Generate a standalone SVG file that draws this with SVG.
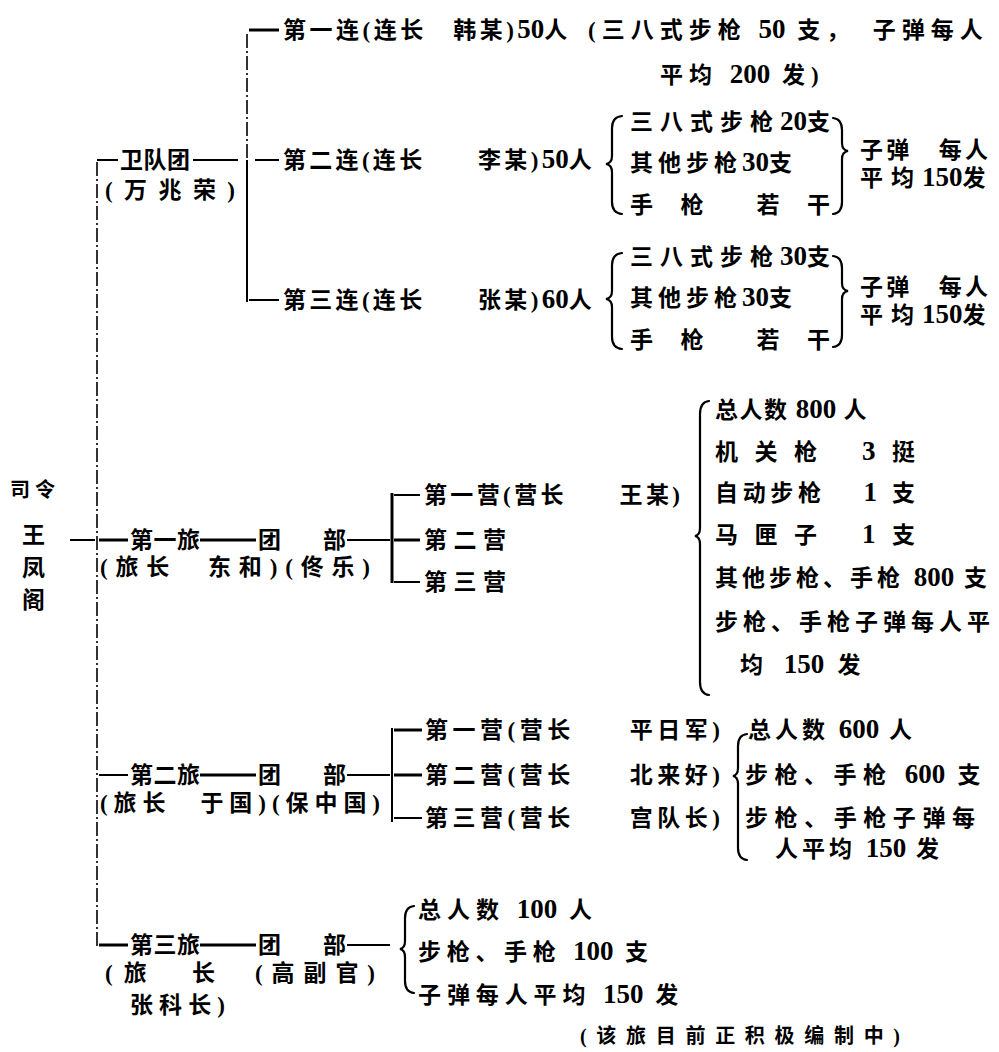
<svg xmlns="http://www.w3.org/2000/svg" width="999" height="1052" viewBox="0 0 999 1052">
<style>
.t{font-family:"Liberation Serif","Noto Sans CJK SC",serif;font-size:23px;font-weight:bold;fill:#000}
.s{font-size:20px}
.d{font-size:27px;letter-spacing:0}
.ln{stroke:#000;stroke-width:2;fill:none}
.bk{stroke:#000;stroke-width:3;fill:none}
.dl{stroke:#000;stroke-width:1.6;fill:none;stroke-dasharray:14 3 2 3}
.br{stroke:#000;stroke-width:2.2;fill:none;stroke-linecap:round}
</style>
<rect width="999" height="1052" fill="#fff"/>
<g id="connectors">
  <line class="ln" x1="70" y1="540" x2="95" y2="540"/>
  <line class="dl" x1="97" y1="162" x2="97" y2="946"/>
  <line class="ln" x1="97" y1="160" x2="118" y2="160"/>
  <line class="bk" x1="99" y1="540" x2="128" y2="540"/>
  <line class="ln" x1="99" y1="775" x2="128" y2="775"/>
  <line class="bk" x1="99" y1="945" x2="128" y2="945"/>
  <line class="ln" x1="193" y1="160" x2="238" y2="160"/>
  <line class="dl" x1="247" y1="34" x2="247" y2="160"/>
  <line class="ln" x1="247" y1="160" x2="247" y2="302"/>
  <line class="bk" x1="249" y1="30" x2="279" y2="30"/>
  <line class="ln" x1="255" y1="160" x2="279" y2="160"/>
  <line class="ln" x1="249" y1="300" x2="279" y2="300"/>
  <line class="bk" x1="200" y1="540" x2="256" y2="540"/>
  <line class="ln" x1="347" y1="540" x2="390" y2="540"/>
  <line class="bk" x1="392" y1="493" x2="392" y2="583"/>
  <line class="ln" x1="394" y1="495" x2="420" y2="495"/>
  <line class="bk" x1="394" y1="540" x2="420" y2="540"/>
  <line class="ln" x1="394" y1="582" x2="420" y2="582"/>
  <line class="bk" x1="200" y1="775" x2="256" y2="775"/>
  <line class="ln" x1="347" y1="775" x2="390" y2="775"/>
  <line class="ln" x1="392" y1="728" x2="392" y2="822"/>
  <line class="bk" x1="394" y1="730" x2="422" y2="730"/>
  <line class="bk" x1="394" y1="775" x2="422" y2="775"/>
  <line class="ln" x1="394" y1="818" x2="422" y2="818"/>
  <line class="bk" x1="200" y1="945" x2="256" y2="945"/>
  <line class="ln" x1="347" y1="945" x2="390" y2="945"/>
  <path class="br" d="M622 116 Q612 117 612 128 L612 156 Q612 163 606 164 Q612 165 612 172 L612 202 Q612 213 622 214"/>
  <path class="br" d="M833 118 Q842 119 842 130 L842 143 Q842 150 848 151 Q842 152 842 159 L842 202 Q842 213 833 214"/>
  <path class="br" d="M622 253 Q612 254 612 265 L612 291 Q612 298 606 299 Q612 300 612 307 L612 337 Q612 348 622 349"/>
  <path class="br" d="M833 256 Q842 257 842 268 L842 283 Q842 290 848 291 Q842 292 842 299 L842 335 Q842 346 833 347"/>
  <path class="br" d="M709 401 Q700 402 700 414 L700 528 Q700 535 695 536 Q700 537 700 544 L700 682 Q700 694 709 695"/>
  <path class="br" d="M747 734 Q738 735 738 746 L738 768 Q738 775 733 776 Q738 777 738 784 L738 848 Q738 859 747 860"/>
  <path class="br" d="M414 906 Q405 907 405 918 L405 941 Q405 948 400 949 Q405 950 405 957 L405 981 Q405 992 414 993"/>
</g>
<g id="commander">
  <text class="t s" x="10" y="497" textLength="45">司令</text>
  <text class="t" x="22" y="543">王</text>
  <text class="t" x="22" y="576">凤</text>
  <text class="t" x="22" y="608">阁</text>
</g>
<g id="guard-regiment">
  <text class="t" x="120" y="168" textLength="70">卫队团</text>
  <text class="t" x="105" y="198" textLength="130">(万兆荣)</text>
</g>
<g id="company-1">
  <text class="t" x="283" y="38" letter-spacing="3.5" xml:space="preserve">第一连(连长　韩某)<tspan class="d">50</tspan>人</text>
  <text class="t" x="588" y="38" letter-spacing="6" xml:space="preserve">(三八式步枪 <tspan class="d">50</tspan> 支，　子弹每人</text>
  <text class="t" x="660" y="83" letter-spacing="6" xml:space="preserve">平均 <tspan class="d">200</tspan> 发)</text>
</g>
<g id="company-2">
  <text class="t" x="283" y="168" letter-spacing="3.3" xml:space="preserve">第二连(连长　　李某)<tspan class="d">50</tspan>人</text>
  <text class="t" x="630" y="130" letter-spacing="7">三八式步枪<tspan class="d">20</tspan>支</text>
  <text class="t" x="630" y="171" letter-spacing="5">其他步枪<tspan class="d">30</tspan>支</text>
  <text class="t" x="630" y="213" textLength="200" xml:space="preserve">手　枪　　若　干</text>
  <text class="t" x="860" y="158" textLength="128" xml:space="preserve">子弹　每人</text>
  <text class="t" x="860" y="186" letter-spacing="8">平均<tspan class="d" letter-spacing="1">150</tspan>发</text>
</g>
<g id="company-3">
  <text class="t" x="283" y="308" letter-spacing="3.3" xml:space="preserve">第三连(连长　　张某)<tspan class="d">60</tspan>人</text>
  <text class="t" x="630" y="265" letter-spacing="7">三八式步枪<tspan class="d">30</tspan>支</text>
  <text class="t" x="630" y="306" letter-spacing="5">其他步枪<tspan class="d">30</tspan>支</text>
  <text class="t" x="630" y="348" textLength="200" xml:space="preserve">手　枪　　若　干</text>
  <text class="t" x="860" y="295" textLength="128" xml:space="preserve">子弹　每人</text>
  <text class="t" x="860" y="323" letter-spacing="8">平均<tspan class="d" letter-spacing="1">150</tspan>发</text>
</g>
<g id="brigade-1">
  <text class="t" x="130" y="548" textLength="70">第一旅</text>
  <text class="t" x="100" y="575" textLength="270" xml:space="preserve">(旅长　东和)(佟乐)</text>
</g>
<g id="hq-1">
  <text class="t" x="258" y="548" textLength="88" xml:space="preserve">团　部</text>
</g>
<g id="battalions-1">
  <text class="t" x="424" y="503" textLength="256" xml:space="preserve">第一营(营长　　王某)</text>
  <text class="t" x="424" y="548" textLength="82">第二营</text>
  <text class="t" x="424" y="590" textLength="82">第三营</text>
</g>
<g id="equipment-1">
  <text class="t" x="715" y="418" letter-spacing="1.5" xml:space="preserve">总人数 <tspan class="d">800</tspan> 人</text>
  <text class="t" x="715" y="460" textLength="200" xml:space="preserve">机 关 枪　 <tspan class="d">3</tspan> 挺</text>
  <text class="t" x="715" y="501" textLength="200" xml:space="preserve">自动步枪　 <tspan class="d">1</tspan> 支</text>
  <text class="t" x="715" y="543" textLength="200" xml:space="preserve">马 匣 子　 <tspan class="d">1</tspan> 支</text>
  <text class="t" x="715" y="586" letter-spacing="4" xml:space="preserve">其他步枪、手枪 <tspan class="d">800</tspan> 支</text>
  <text class="t" x="715" y="630" textLength="275">步枪、手枪子弹每人平</text>
  <text class="t" x="740" y="673" letter-spacing="7.5" xml:space="preserve">均 <tspan class="d">150</tspan> 发</text>
</g>
<g id="brigade-2">
  <text class="t" x="130" y="783" textLength="70">第二旅</text>
  <text class="t" x="100" y="811" textLength="280" xml:space="preserve">(旅长　于国)(保中国)</text>
</g>
<g id="hq-2">
  <text class="t" x="258" y="783" textLength="88" xml:space="preserve">团　部</text>
</g>
<g id="battalions-2">
  <text class="t" x="425" y="738" textLength="295" xml:space="preserve">第一营(营长　　平日军)</text>
  <text class="t" x="425" y="783" textLength="295" xml:space="preserve">第二营(营长　　北来好)</text>
  <text class="t" x="425" y="826" textLength="295" xml:space="preserve">第三营(营长　　宫队长)</text>
</g>
<g id="equipment-2">
  <text class="t" x="748" y="738" letter-spacing="4" xml:space="preserve">总人数 <tspan class="d">600</tspan> 人</text>
  <text class="t" x="745" y="783" letter-spacing="6.5" xml:space="preserve">步枪、手枪 <tspan class="d">600</tspan> 支</text>
  <text class="t" x="745" y="826" textLength="230">步枪、手枪子弹每</text>
  <text class="t" x="775" y="857" letter-spacing="4" xml:space="preserve">人平均 <tspan class="d">150</tspan> 发</text>
</g>
<g id="brigade-3">
  <text class="t" x="130" y="953" textLength="70">第三旅</text>
  <text class="t" x="105" y="981" textLength="110" xml:space="preserve">(旅　长</text>
  <text class="t" x="130" y="1013" textLength="95">张科长)</text>
</g>
<g id="hq-3">
  <text class="t" x="258" y="953" textLength="88" xml:space="preserve">团　部</text>
  <text class="t" x="255" y="981" textLength="120">(高副官)</text>
</g>
<g id="equipment-3">
  <text class="t" x="418" y="918" letter-spacing="6" xml:space="preserve">总人数 <tspan class="d">100</tspan> 人</text>
  <text class="t" x="418" y="960" letter-spacing="5.7" xml:space="preserve">步枪、手枪 <tspan class="d">100</tspan> 支</text>
  <text class="t" x="418" y="1003" letter-spacing="5.9" xml:space="preserve">子弹每人平均 <tspan class="d">150</tspan> 发</text>
  <text class="t s" x="580" y="1043" textLength="320">(该旅目前正积极编制中)</text>
</g>
</svg>
